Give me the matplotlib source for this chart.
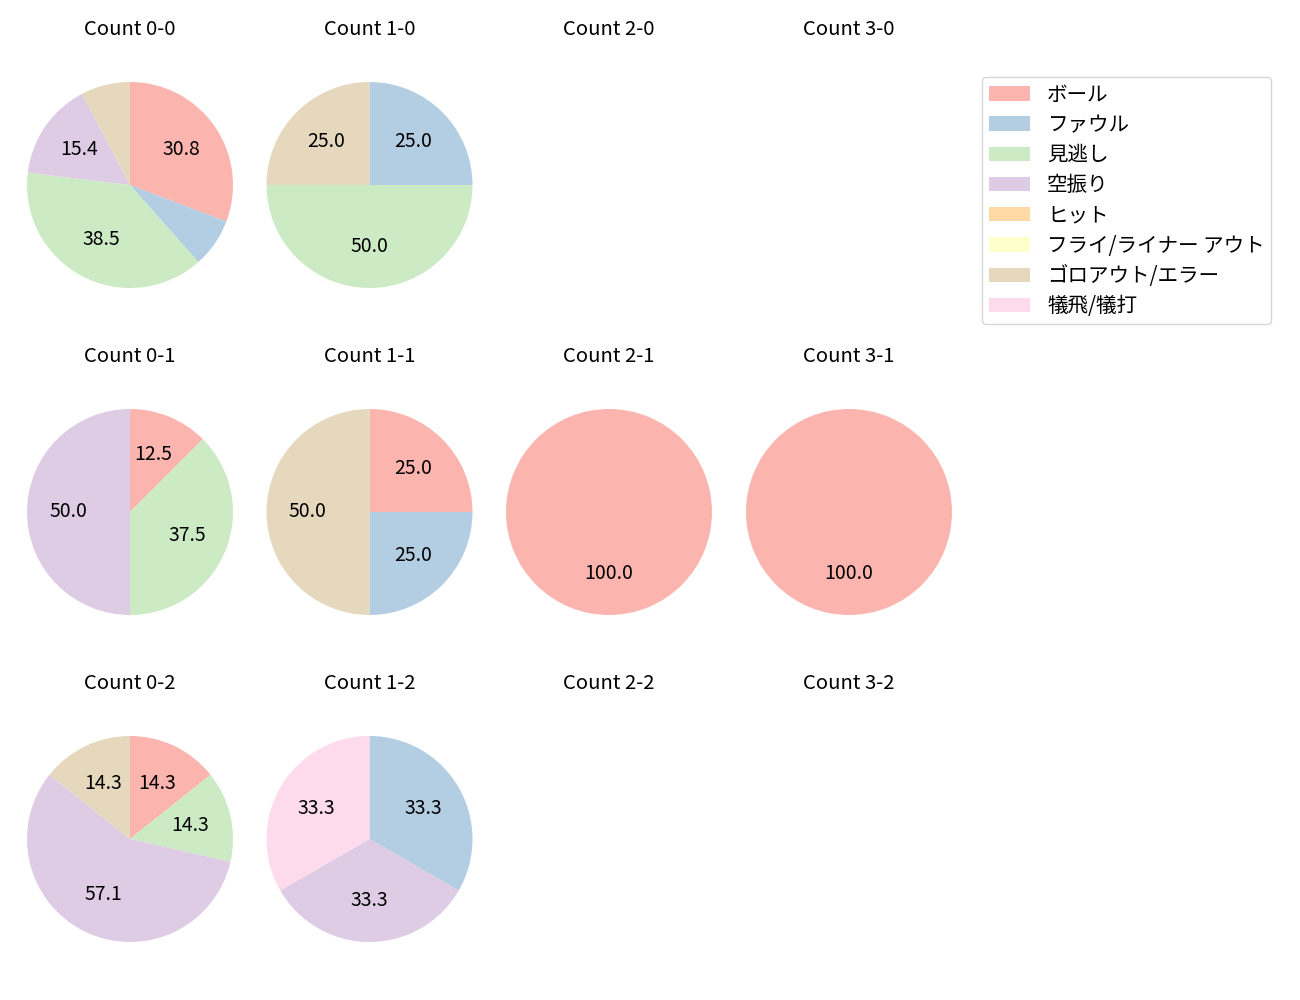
import matplotlib
matplotlib.use("Agg")
import matplotlib.pyplot as plt
from matplotlib.patches import Patch

plt.rcParams['font.family'] = ['Noto Sans CJK JP', 'DejaVu Sans']

categories = ['ボール', 'ファウル', '見逃し', '空振り', 'ヒット',
              'フライ/ライナー アウト', 'ゴロアウト/エラー', '犠飛/犠打']
colors = ['#fbb4ae', '#b3cde3', '#ccebc5', '#decbe4', '#fed9a6',
          '#ffffcc', '#e5d8bd', '#fddaec']

balls = [0, 1, 2, 3]
strikes = [0, 1, 2]

# counts per category for each ball-strike count
counts = {
    (0, 0): [4, 1, 5, 2, 0, 0, 1, 0],
    (1, 0): [0, 1, 2, 0, 0, 0, 1, 0],
    (2, 0): [0, 0, 0, 0, 0, 0, 0, 0],
    (3, 0): [0, 0, 0, 0, 0, 0, 0, 0],
    (0, 1): [1, 0, 3, 4, 0, 0, 0, 0],
    (1, 1): [1, 1, 0, 0, 0, 0, 2, 0],
    (2, 1): [1, 0, 0, 0, 0, 0, 0, 0],
    (3, 1): [1, 0, 0, 0, 0, 0, 0, 0],
    (0, 2): [1, 0, 1, 4, 0, 0, 1, 0],
    (1, 2): [0, 1, 0, 1, 0, 0, 0, 1],
    (2, 2): [0, 0, 0, 0, 0, 0, 0, 0],
    (3, 2): [0, 0, 0, 0, 0, 0, 0, 0],
}

W, H = 1300, 1000
fig = plt.figure(figsize=(13, 10), dpi=100)

col_cx = [130, 369.5, 609, 849]
row_cy = [185, 512, 839]
box = 257.5

def autopct(p):
    return f'{p:.1f}' if p >= 10 else ''

for si, s in enumerate(strikes):
    for bi, b in enumerate(balls):
        cx, cy = col_cx[bi], row_cy[si]
        ax = fig.add_axes([(cx - box / 2) / W, 1 - (cy + box / 2) / H, box / W, box / H])
        vals = counts[(b, s)]
        if sum(vals) > 0:
            nz = [(v, c) for v, c in zip(vals, colors) if v > 0]
            ax.pie([v for v, _ in nz], colors=[c for _, c in nz], startangle=90,
                   counterclock=False, autopct=autopct,
                   textprops={'fontsize': 14})
        else:
            ax.set_xlim(-1.25, 1.25)
            ax.set_ylim(-1.25, 1.25)
        ax.axis('off')
        ax.set_aspect('equal')
        ax.set_title(f'Count {b}-{s}', fontsize=14.6, pad=15)

handles = [Patch(facecolor=c, label=l) for c, l in zip(colors, categories)]
fig.legend(handles=handles, loc='upper left', bbox_to_anchor=(982 / W, 1 - 77 / H),
           fontsize=14.8, labelspacing=0.4, handletextpad=0.85, borderpad=0.32,
           frameon=True, borderaxespad=0)

fig.savefig('out.png', dpi=100)
